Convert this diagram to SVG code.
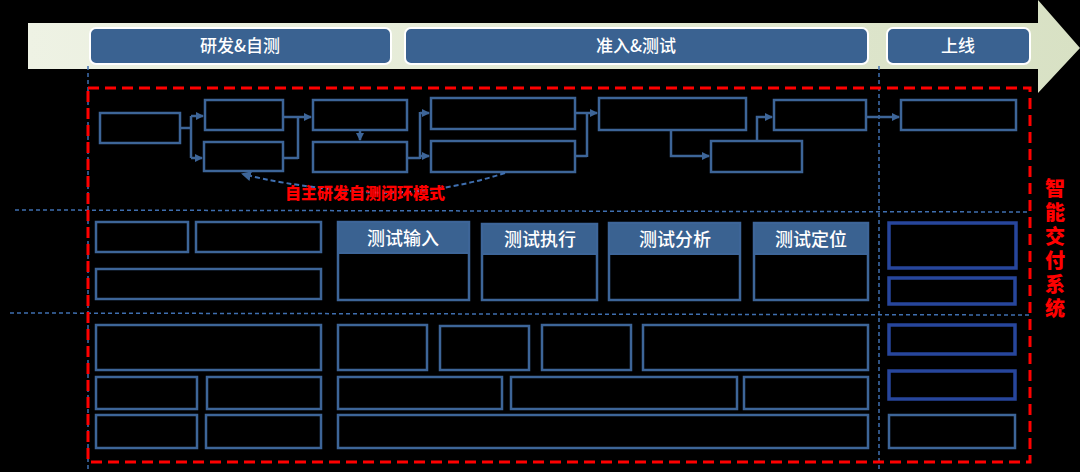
<svg xmlns="http://www.w3.org/2000/svg" width="1080" height="472" viewBox="0 0 1080 472">
<defs>
<linearGradient id="band" x1="0" y1="0" x2="1" y2="0">
<stop offset="0" stop-color="#eef2e4"/>
<stop offset="1" stop-color="#d8e1c4"/>
</linearGradient>
<marker id="arr" markerWidth="8" markerHeight="8" refX="7" refY="4" orient="auto" markerUnits="userSpaceOnUse">
<path d="M0,0 L8,4 L0,8 z" fill="#3d6598"/>
</marker>
<marker id="arr2" markerWidth="10" markerHeight="10" refX="8" refY="5" orient="auto" markerUnits="userSpaceOnUse">
<path d="M0,0 L10,5 L0,10 z" fill="#3d6598"/>
</marker>
<style>
.phase{fill:#3a6291;stroke:#ffffff;stroke-width:2}
.pt{font-family:"Noto Sans CJK SC","Liberation Sans",sans-serif;font-size:17px;fill:#ffffff;text-anchor:middle;font-weight:500}
.bx{fill:none;stroke:#3d6598;stroke-width:2.5}
.rb{fill:none;stroke:#27469c;stroke-width:3.5}
.hd{fill:#3a6291;stroke:#3d6598;stroke-width:2}
.ht{font-family:"Noto Sans CJK SC","Liberation Sans",sans-serif;font-size:18px;fill:#ffffff;text-anchor:middle;font-weight:500}
.ln{fill:none;stroke:#3d6598;stroke-width:2.5}
.vd{fill:none;stroke:#3f6fb0;stroke-width:1.5;stroke-dasharray:4,3}
.red{fill:#ff0000;font-family:"Noto Sans CJK SC","Liberation Sans",sans-serif;font-weight:900}
</style>
</defs>
<rect width="1080" height="472" fill="#000000"/>

<g id="timeline">
<path d="M28,23 H1038 V0 L1080,48 L1038,93 V69 H28 Z" fill="url(#band)"/>
</g>
<g id="phase-dev">
<rect class="phase" x="90" y="28" width="301" height="36" rx="6"/>
<text class="pt" x="240" y="52">研发&amp;自测</text>
</g>
<g id="phase-test">
<rect class="phase" x="405" y="28" width="463" height="36" rx="6"/>
<text class="pt" x="636" y="52">准入&amp;测试</text>
</g>
<g id="phase-online">
<rect class="phase" x="887" y="28" width="143" height="36" rx="6"/>
<text class="pt" x="958" y="52">上线</text>
</g>

<g id="guides">
<line class="vd" x1="88" y1="66" x2="88" y2="470"/>
<line class="vd" x1="879" y1="66" x2="879" y2="472"/>
<line class="vd" x1="15" y1="210" x2="1030" y2="212"/>
<line class="vd" x1="10" y1="313" x2="1030" y2="315"/>
</g>

<g id="system-frame">
<rect x="88" y="88" width="942" height="374" fill="none" stroke="#ff0000" stroke-width="3" stroke-dasharray="11,6"/>
<text class="red" font-size="20" x="1055" y="178" style="writing-mode:vertical-rl;letter-spacing:4px">智能交付系统</text>
</g>

<g id="flow-nodes">
<rect id="n-a" class="bx" x="100" y="113" width="80" height="30"/>
<rect id="n-b1" class="bx" x="205" y="100" width="78" height="30"/>
<rect id="n-b2" class="bx" x="204" y="142" width="79" height="29"/>
<rect id="n-c1" class="bx" x="313" y="100" width="94" height="30"/>
<rect id="n-c2" class="bx" x="313" y="142" width="94" height="30"/>
<rect id="n-d1" class="bx" x="431" y="98" width="144" height="31"/>
<rect id="n-d2" class="bx" x="431" y="141" width="144" height="31"/>
<rect id="n-e" class="bx" x="599" y="98" width="147" height="32"/>
<rect id="n-f" class="bx" x="711" y="141" width="91" height="31"/>
<rect id="n-g" class="bx" x="774" y="100" width="92" height="30"/>
<rect id="n-h" class="bx" x="901" y="100" width="115" height="30"/>
</g>

<g id="connectors">
<path class="ln" d="M180,128 H191 M191,116 V158"/>
<path class="ln" d="M191,116 H203" marker-end="url(#arr)"/>
<path class="ln" d="M191,158 H202" marker-end="url(#arr)"/>
<path class="ln" d="M283,117 H298 M283,158 H298 M298,116 V159"/>
<path class="ln" d="M298,117 H311" marker-end="url(#arr)"/>
<path class="ln" d="M360,130 V140" marker-end="url(#arr)"/>
<path class="ln" d="M407,158 H420 M420,112 V159"/>
<path class="ln" d="M420,113 H429" marker-end="url(#arr)"/>
<path class="ln" d="M420,156 H429" marker-end="url(#arr)"/>
<path class="ln" d="M575,113 H587 M575,156 H587 M587,112 V157"/>
<path class="ln" d="M587,113 H597" marker-end="url(#arr)"/>
<path class="ln" d="M671,130 V156 H709" marker-end="url(#arr)"/>
<path class="ln" d="M757,141 V117 H772" marker-end="url(#arr)"/>
<path class="ln" d="M866,117 H899" marker-end="url(#arr)"/>
<path d="M505,173 Q420,200 340,190 Q280,184 243,174" fill="none" stroke="#3f6fb0" stroke-width="2" stroke-dasharray="5,3" marker-end="url(#arr2)"/>
<text class="red" font-size="16" x="365" y="199" text-anchor="middle">自主研发自测闭环模式</text>
</g>

<g id="mid-left">
<rect class="bx" x="96" y="222" width="92" height="30"/>
<rect class="bx" x="196" y="222" width="125" height="30"/>
<rect class="bx" x="96" y="269" width="225" height="30"/>
</g>
<g id="test-input">
<rect class="bx" x="338" y="222" width="131" height="78"/>
<rect class="hd" x="338" y="222" width="131" height="31"/>
<text class="ht" x="403" y="245">测试输入</text>
</g>
<g id="test-exec">
<rect class="bx" x="482" y="224" width="115" height="76"/>
<rect class="hd" x="482" y="224" width="115" height="30"/>
<text class="ht" x="540" y="246">测试执行</text>
</g>
<g id="test-analysis">
<rect class="bx" x="609" y="223" width="131" height="77"/>
<rect class="hd" x="609" y="223" width="131" height="31"/>
<text class="ht" x="675" y="246">测试分析</text>
</g>
<g id="test-locate">
<rect class="bx" x="754" y="223" width="114" height="77"/>
<rect class="hd" x="754" y="223" width="114" height="31"/>
<text class="ht" x="811" y="246">测试定位</text>
</g>
<g id="mid-right">
<rect class="rb" x="889" y="223" width="127" height="45"/>
<rect class="rb" x="889" y="278" width="126" height="26"/>
</g>

<g id="bottom-left">
<rect class="bx" x="96" y="325" width="225" height="45"/>
<rect class="bx" x="96" y="377" width="101" height="32"/>
<rect class="bx" x="207" y="377" width="114" height="32"/>
<rect class="bx" x="96" y="415" width="101" height="33"/>
<rect class="bx" x="206" y="415" width="115" height="33"/>
</g>
<g id="bottom-mid">
<rect class="bx" x="338" y="325" width="89" height="45"/>
<rect class="bx" x="440" y="326" width="89" height="44"/>
<rect class="bx" x="542" y="325" width="89" height="45"/>
<rect class="bx" x="643" y="325" width="225" height="45"/>
<rect class="bx" x="338" y="377" width="164" height="32"/>
<rect class="bx" x="511" y="377" width="226" height="32"/>
<rect class="bx" x="744" y="377" width="124" height="32"/>
<rect class="bx" x="338" y="415" width="530" height="33"/>
</g>
<g id="bottom-right">
<rect class="rb" x="889" y="325" width="126" height="29"/>
<rect class="rb" x="889" y="371" width="126" height="28"/>
<rect class="bx" x="889" y="415" width="126" height="33"/>
</g>
</svg>
